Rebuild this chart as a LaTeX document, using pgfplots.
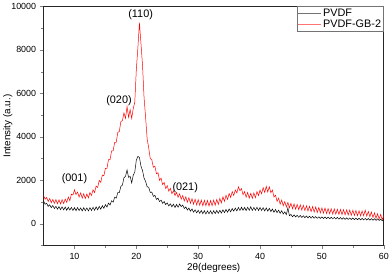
\documentclass[border=0pt]{standalone}
\usepackage{fontspec}
\setmainfont{Liberation Sans}
\usepackage{pgfplots}
\pgfplotsset{compat=1.18}
\begin{document}
\begin{tikzpicture}
\begin{axis}[
  scale only axis,
  width=343bp, height=241bp,
  xmin=5, xmax=60, ymin=-1000, ymax=10000,
  scaled ticks=false,
  xtick={10,20,30,40,50,60},
  minor xtick={15,25,35,45,55},
  ytick={0,2000,4000,6000,8000,10000},
  minor ytick={-1000,1000,3000,5000,7000,9000},
  tick align=outside,
  major tick length=4bp, minor tick length=2.5bp,
  xtick pos=bottom, ytick pos=left,
  /pgf/number format/assume math mode=true,
  /pgf/number format/1000 sep={},
  tick label style={font=\fontsize{9}{10}\selectfont},
  label style={font=\fontsize{10}{12}\selectfont},
  xlabel={2θ(degrees)},
  ylabel={Intensity (a.u.)},
  ylabel style={yshift=-8bp},
  xlabel style={yshift=3bp},
  axis line style={black!85, line width=0.8pt},
  legend style={at={(1,1)}, anchor=north east, draw=black!55, font=\fontsize{11}{12}\selectfont, inner sep=0.5pt, row sep=-2.5pt},
  legend image code/.code={\draw[#1, line width=0.4pt, opacity=0.55] (0bp,0bp)--(23bp,0bp);},
  legend cell align=left,
  clip=true,
]
\addplot[black, line width=0.5pt] coordinates {
(5.00,1050)(5.25,900)(5.50,940)(5.75,800)(6.00,870)(6.25,740)(6.50,840)(6.75,700)(7.00,800)(7.25,670)(7.50,790)(7.75,650)(8.00,780)(8.25,640)(8.50,770)(8.75,620)(9.00,760)(9.25,630)(9.50,750)(9.75,610)(10.00,740)(10.25,600)(10.50,750)(10.75,610)(11.00,730)(11.25,590)(11.50,740)(11.75,600)(12.00,730)(12.25,590)(12.50,740)(12.75,610)(13.00,760)(13.25,620)(13.50,780)(13.75,640)(14.00,800)(14.25,670)(14.50,830)(14.75,710)(15.00,880)(15.25,770)(15.50,950)(15.75,860)(16.00,1060)(16.25,990)(16.50,1220)(16.75,1180)(17.00,1430)(17.25,1430)(17.50,1720)(17.75,1780)(18.00,2120)(18.25,2180)(18.50,2480)(18.75,2130)(19.00,2180)(19.25,1880)(19.50,2230)(19.75,2380)(20.00,2930)(20.25,3100)(20.50,3050)(20.75,2650)(21.00,2450)(21.25,2100)(21.50,1950)(21.75,1700)(22.00,1680)(22.25,1440)(22.50,1460)(22.75,1260)(23.00,1310)(23.25,1120)(23.50,1180)(23.75,1020)(24.00,1090)(24.25,940)(24.50,1020)(24.75,880)(25.00,960)(25.25,820)(25.50,920)(25.75,780)(26.00,900)(26.25,750)(26.50,890)(26.75,760)(27.00,910)(27.25,790)(27.50,860)(27.75,700)(28.00,780)(28.25,630)(28.50,720)(28.75,580)(29.00,680)(29.25,530)(29.50,640)(29.75,500)(30.00,620)(30.25,480)(30.50,610)(30.75,460)(31.00,600)(31.25,450)(31.50,590)(31.75,460)(32.00,600)(32.25,450)(32.50,600)(32.75,470)(33.00,610)(33.25,480)(33.50,620)(33.75,490)(34.00,640)(34.25,510)(34.50,660)(34.75,530)(35.00,680)(35.25,550)(35.50,700)(35.75,580)(36.00,720)(36.25,590)(36.50,750)(36.75,610)(37.00,760)(37.25,620)(37.50,750)(37.75,610)(38.00,760)(38.25,620)(38.50,780)(38.75,610)(39.00,750)(39.25,620)(39.50,760)(39.75,610)(40.00,750)(40.25,610)(40.50,740)(40.75,590)(41.00,730)(41.25,580)(41.50,710)(41.75,560)(42.00,680)(42.25,530)(42.50,660)(42.75,510)(43.00,630)(43.25,480)(43.50,600)(43.75,450)(44.00,550)(44.25,420)(44.50,730)(44.75,370)(45.00,430)(45.25,320)(45.50,410)(45.75,310)(46.00,390)(46.25,300)(46.50,380)(46.75,290)(47.00,370)(47.25,280)(47.50,360)(47.75,270)(48.00,350)(48.25,260)(48.50,340)(48.75,255)(49.00,330)(49.25,250)(49.50,320)(49.75,245)(50.00,315)(50.25,240)(50.50,310)(50.75,235)(51.00,305)(51.25,230)(51.50,300)(51.75,225)(52.00,295)(52.25,220)(52.50,290)(52.75,215)(53.00,285)(53.25,210)(53.50,280)(53.75,205)(54.00,275)(54.25,200)(54.50,270)(54.75,195)(55.00,265)(55.25,190)(55.50,260)(55.75,185)(56.00,255)(56.25,180)(56.50,250)(56.75,175)(57.00,245)(57.25,170)(57.50,240)(57.75,165)(58.00,235)(58.25,160)(58.50,230)(58.75,155)(59.00,225)(59.25,150)(59.50,215)(59.75,140)(60.00,190)
};
\addlegendentry{PVDF}
\addplot[red, line width=0.5pt] coordinates {
(5.00,1300)(5.25,1130)(5.50,1210)(5.75,1030)(6.00,1160)(6.25,970)(6.50,1120)(6.75,940)(7.00,1110)(7.25,920)(7.50,1100)(7.75,910)(8.00,1110)(8.25,930)(8.50,1140)(8.75,980)(9.00,1230)(9.25,1060)(9.50,1360)(9.75,1320)(10.00,1560)(10.25,1340)(10.50,1460)(10.75,1230)(11.00,1420)(11.25,1180)(11.50,1380)(11.75,1160)(12.00,1370)(12.25,1190)(12.50,1440)(12.75,1300)(13.00,1560)(13.25,1440)(13.50,1730)(13.75,1670)(14.00,1990)(14.25,1910)(14.50,2240)(14.75,2210)(15.00,2550)(15.25,2550)(15.50,2950)(15.75,2950)(16.00,3350)(16.25,3350)(16.50,3750)(16.75,3750)(17.00,4200)(17.25,4250)(17.50,4700)(17.75,4750)(18.00,5100)(18.25,4850)(18.50,5400)(18.75,4900)(19.00,5250)(19.25,4850)(19.50,5300)(19.75,5600)(20.00,7100)(20.25,8100)(20.50,9250)(20.75,8300)(21.00,7300)(21.25,5800)(21.50,4900)(21.75,3900)(22.00,3500)(22.25,3000)(22.50,2950)(22.75,2600)(23.00,2650)(23.25,2300)(23.50,2350)(23.75,2000)(24.00,2100)(24.25,1800)(24.50,1900)(24.75,1620)(25.00,1750)(25.25,1500)(25.50,1630)(25.75,1380)(26.00,1520)(26.25,1300)(26.50,1440)(26.75,1220)(27.00,1380)(27.25,1130)(27.50,1300)(27.75,1050)(28.00,1240)(28.25,990)(28.50,1200)(28.75,940)(29.00,1160)(29.25,900)(29.50,1130)(29.75,870)(30.00,1110)(30.25,850)(30.50,1090)(30.75,830)(31.00,1080)(31.25,830)(31.50,1070)(31.75,820)(32.00,1070)(32.25,830)(32.50,1090)(32.75,850)(33.00,1120)(33.25,890)(33.50,1170)(33.75,960)(34.00,1240)(34.25,1030)(34.50,1310)(34.75,1120)(35.00,1390)(35.25,1210)(35.50,1480)(35.75,1300)(36.00,1550)(36.25,1420)(36.50,1700)(36.75,1520)(37.00,1620)(37.25,1330)(37.50,1480)(37.75,1220)(38.00,1440)(38.25,1180)(38.50,1400)(38.75,1170)(39.00,1420)(39.25,1200)(39.50,1480)(39.75,1300)(40.00,1550)(40.25,1380)(40.50,1660)(40.75,1440)(41.00,1720)(41.25,1460)(41.50,1700)(41.75,1430)(42.00,1550)(42.25,1230)(42.50,1320)(42.75,1030)(43.00,1180)(43.25,900)(43.50,1090)(43.75,830)(44.00,1020)(44.25,770)(44.50,980)(44.75,730)(45.00,940)(45.25,690)(45.50,910)(45.75,670)(46.00,890)(46.25,650)(46.50,870)(46.75,630)(47.00,850)(47.25,610)(47.50,830)(47.75,590)(48.00,800)(48.25,560)(48.50,790)(48.75,540)(49.00,770)(49.25,520)(49.50,750)(49.75,500)(50.00,730)(50.25,490)(50.50,720)(50.75,470)(51.00,700)(51.25,460)(51.50,690)(51.75,450)(52.00,680)(52.25,440)(52.50,670)(52.75,430)(53.00,660)(53.25,420)(53.50,650)(53.75,410)(54.00,640)(54.25,400)(54.50,630)(54.75,390)(55.00,620)(55.25,380)(55.50,610)(55.75,370)(56.00,600)(56.25,360)(56.50,590)(56.75,370)(57.00,620)(57.25,350)(57.50,570)(57.75,320)(58.00,540)(58.25,290)(58.50,500)(58.75,250)(59.00,460)(59.25,220)(59.50,430)(59.75,190)(60.00,380)
};
\addlegendentry{PVDF-GB-2}
\node[font=\fontsize{11}{13}\selectfont] at (axis cs:20.7,9640) {(110)};
\node[font=\fontsize{11}{13}\selectfont] at (axis cs:17.2,5680) {(020)};
\node[font=\fontsize{11}{13}\selectfont] at (axis cs:10.0,2060) {(001)};
\node[font=\fontsize{11}{13}\selectfont] at (axis cs:27.9,1650) {(021)};
\end{axis}
\end{tikzpicture}
\end{document}
